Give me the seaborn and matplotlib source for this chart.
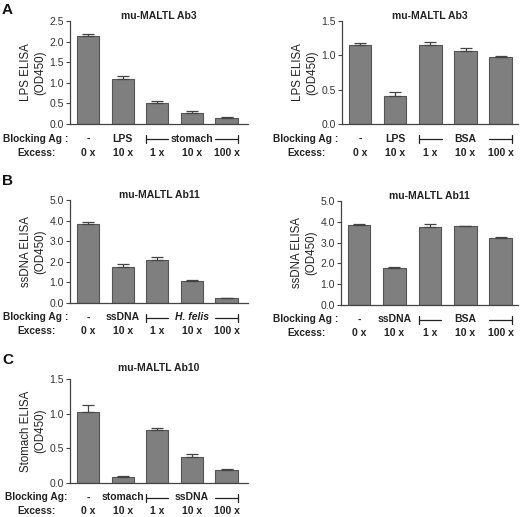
import numpy as np
import pandas as pd
import matplotlib
matplotlib.use("Agg")
import matplotlib.pyplot as plt
import matplotlib.transforms as mtransforms
import seaborn as sns

# data (mean, upper error)
excess = ["0 x", "10 x", "1 x", "10 x", "100 x"]

a1_vals = [2.14, 1.09, 0.52, 0.26, 0.14]
a1_err = [0.04, 0.07, 0.05, 0.06, 0.03]
a1_block = ["-", "LPS"]
a1_bracket = "stomach"

a2_vals = [1.15, 0.41, 1.15, 1.07, 0.97]
a2_err = [0.03, 0.05, 0.05, 0.04, 0.02]
a2_block = ["-", "LPS"]
a2_bracket = "BSA"

b1_vals = [3.84, 1.74, 2.10, 1.06, 0.23]
b1_err = [0.08, 0.15, 0.13, 0.07, 0.03]
b1_block = ["-", "ssDNA"]
b1_bracket = "H. felis"

b2_vals = [3.85, 1.76, 3.77, 3.79, 3.24]
b2_err = [0.03, 0.07, 0.11, 0.03, 0.03]
b2_block = ["-", "ssDNA"]
b2_bracket = "BSA"

c1_vals = [1.03, 0.087, 0.77, 0.375, 0.19]
c1_err = [0.10, 0.015, 0.03, 0.05, 0.01]
c1_block = ["-", "stomach"]
c1_bracket = "ssDNA"

sns.set_style("ticks")
plt.rcParams['font.family'] = ['Liberation Sans', 'DejaVu Sans']

BAR = "#7f7f7f"
EDGE = "#555555"
TXT = "#222222"
W = 0.64

fig = plt.figure(figsize=(5.2, 5.17), dpi=100)


def panel(rect, vals, err, block, bracket, title, ylabel, yticks,
          block_label="Blocking Ag :", xlim=(-0.52, 4.62), title_pad=0,
          label_x=36, italic=False):
    ax = fig.add_axes(rect)
    conds = [f"c{i}" for i in range(len(vals))]
    df = pd.DataFrame({"cond": conds, "od": vals})
    sns.barplot(data=df, x="cond", y="od", color=BAR, saturation=1,
                width=W, edgecolor=EDGE, linewidth=0.8, ax=ax)
    pos = np.arange(len(vals))
    ax.errorbar(pos, vals, yerr=[np.zeros(len(err)), err], fmt="none",
                ecolor="#444444", elinewidth=0.9, capsize=4.3, capthick=0.9)
    ax.set_xlim(*xlim)
    ax.set_ylim(yticks[0], yticks[-1])
    ax.set_yticks(yticks)
    ax.set_yticklabels([f"{t:.1f}" for t in yticks], fontsize=7.5, color="#333333")
    ax.set_xticks([])
    ax.set_xlabel("")
    ax.set_ylabel(ylabel, fontsize=8.3, color=TXT, labelpad=2, linespacing=1.3)
    ax.tick_params(axis="y", length=3, width=0.8, color="#444444", pad=1.5)
    for s in ("top", "right"):
        ax.spines[s].set_visible(False)
    for s in ("left", "bottom"):
        ax.spines[s].set_color("#444444")
        ax.spines[s].set_linewidth(0.9)
    ax.annotate(title, xy=(0.5, 1.0), xycoords="axes fraction",
                xytext=(0, title_pad), textcoords="offset points",
                ha="center", va="bottom", fontsize=7.5, fontweight="bold",
                color=TXT)

    tr = mtransforms.blended_transform_factory(ax.transData, ax.transAxes)
    h_px = rect[3] * 517
    y1 = -14.5 / h_px
    y2 = -28.5 / h_px
    kw = dict(ha="center", va="center", fontsize=7.5, fontweight="bold",
              color=TXT, transform=tr, clip_on=False)
    for i, lab in enumerate(block):
        ax.text(pos[i], y1, lab, **kw)
    for i, lab in enumerate(excess):
        ax.text(pos[i], y2, lab, **kw)
    ax.text(pos[3], y1, bracket, style="italic" if italic else "normal", **kw)
    tick = 4 / h_px
    for a, b in ((pos[2] - W / 2, pos[2] + W / 2), (pos[4] - W / 2, pos[4] + W / 2)):
        ax.plot([a, b], [y1, y1], color=TXT, lw=0.9, transform=tr, clip_on=False)
    for xx in (pos[2] - W / 2, pos[4] + W / 2):
        ax.plot([xx, xx], [y1 - tick, y1 + tick], color=TXT, lw=0.9,
                transform=tr, clip_on=False)

    trf = mtransforms.blended_transform_factory(fig.transFigure, ax.transAxes)
    kw2 = dict(ha="center", va="center", fontsize=7.3, fontweight="bold",
               color=TXT, transform=trf, clip_on=False)
    ax.text(label_x / 520, y1, block_label, **kw2)
    ax.text(label_x / 520, y2, "Excess:", **kw2)
    return ax


H = 103 / 517
panel([70 / 520, 1 - 124 / 517, 178 / 520, H], a1_vals, a1_err, a1_block,
      a1_bracket, "mu-MALTL Ab3", "LPS ELISA\n(OD450)",
      [0.0, 0.5, 1.0, 1.5, 2.0, 2.5])
panel([342 / 520, 1 - 124 / 517, 176 / 520, H], a2_vals, a2_err, a2_block,
      a2_bracket, "mu-MALTL Ab3", "LPS ELISA\n(OD450)",
      [0.0, 0.5, 1.0, 1.5], xlim=(-0.51, 4.49), label_x=306)
panel([70 / 520, 1 - 303 / 517, 178 / 520, H], b1_vals, b1_err, b1_block,
      b1_bracket, "mu-MALTL Ab11", "ssDNA ELISA\n(OD450)",
      [0.0, 1.0, 2.0, 3.0, 4.0, 5.0], italic=True)
panel([341 / 520, 1 - 305 / 517, 177 / 520, 104 / 517], b2_vals, b2_err, b2_block,
      b2_bracket, "mu-MALTL Ab11", "ssDNA ELISA\n(OD450)",
      [0.0, 1.0, 2.0, 3.0, 4.0, 5.0], xlim=(-0.51, 4.49), label_x=306)
panel([70 / 520, 1 - 483 / 517, 178 / 520, 104 / 517], c1_vals, c1_err, c1_block,
      c1_bracket, "mu-MALTL Ab10", "Stomach ELISA\n(OD450)",
      [0.0, 0.5, 1.0, 1.5], block_label="Blocking Ag:", title_pad=4)

for letter, ytop in (("A", 3), ("B", 174), ("C", 353)):
    fig.text(2 / 520, 1 - ytop / 517, letter, ha="left", va="top",
             fontsize=11, fontweight="bold", color="#111111")

fig.savefig("out.png", dpi=100, facecolor="white")
